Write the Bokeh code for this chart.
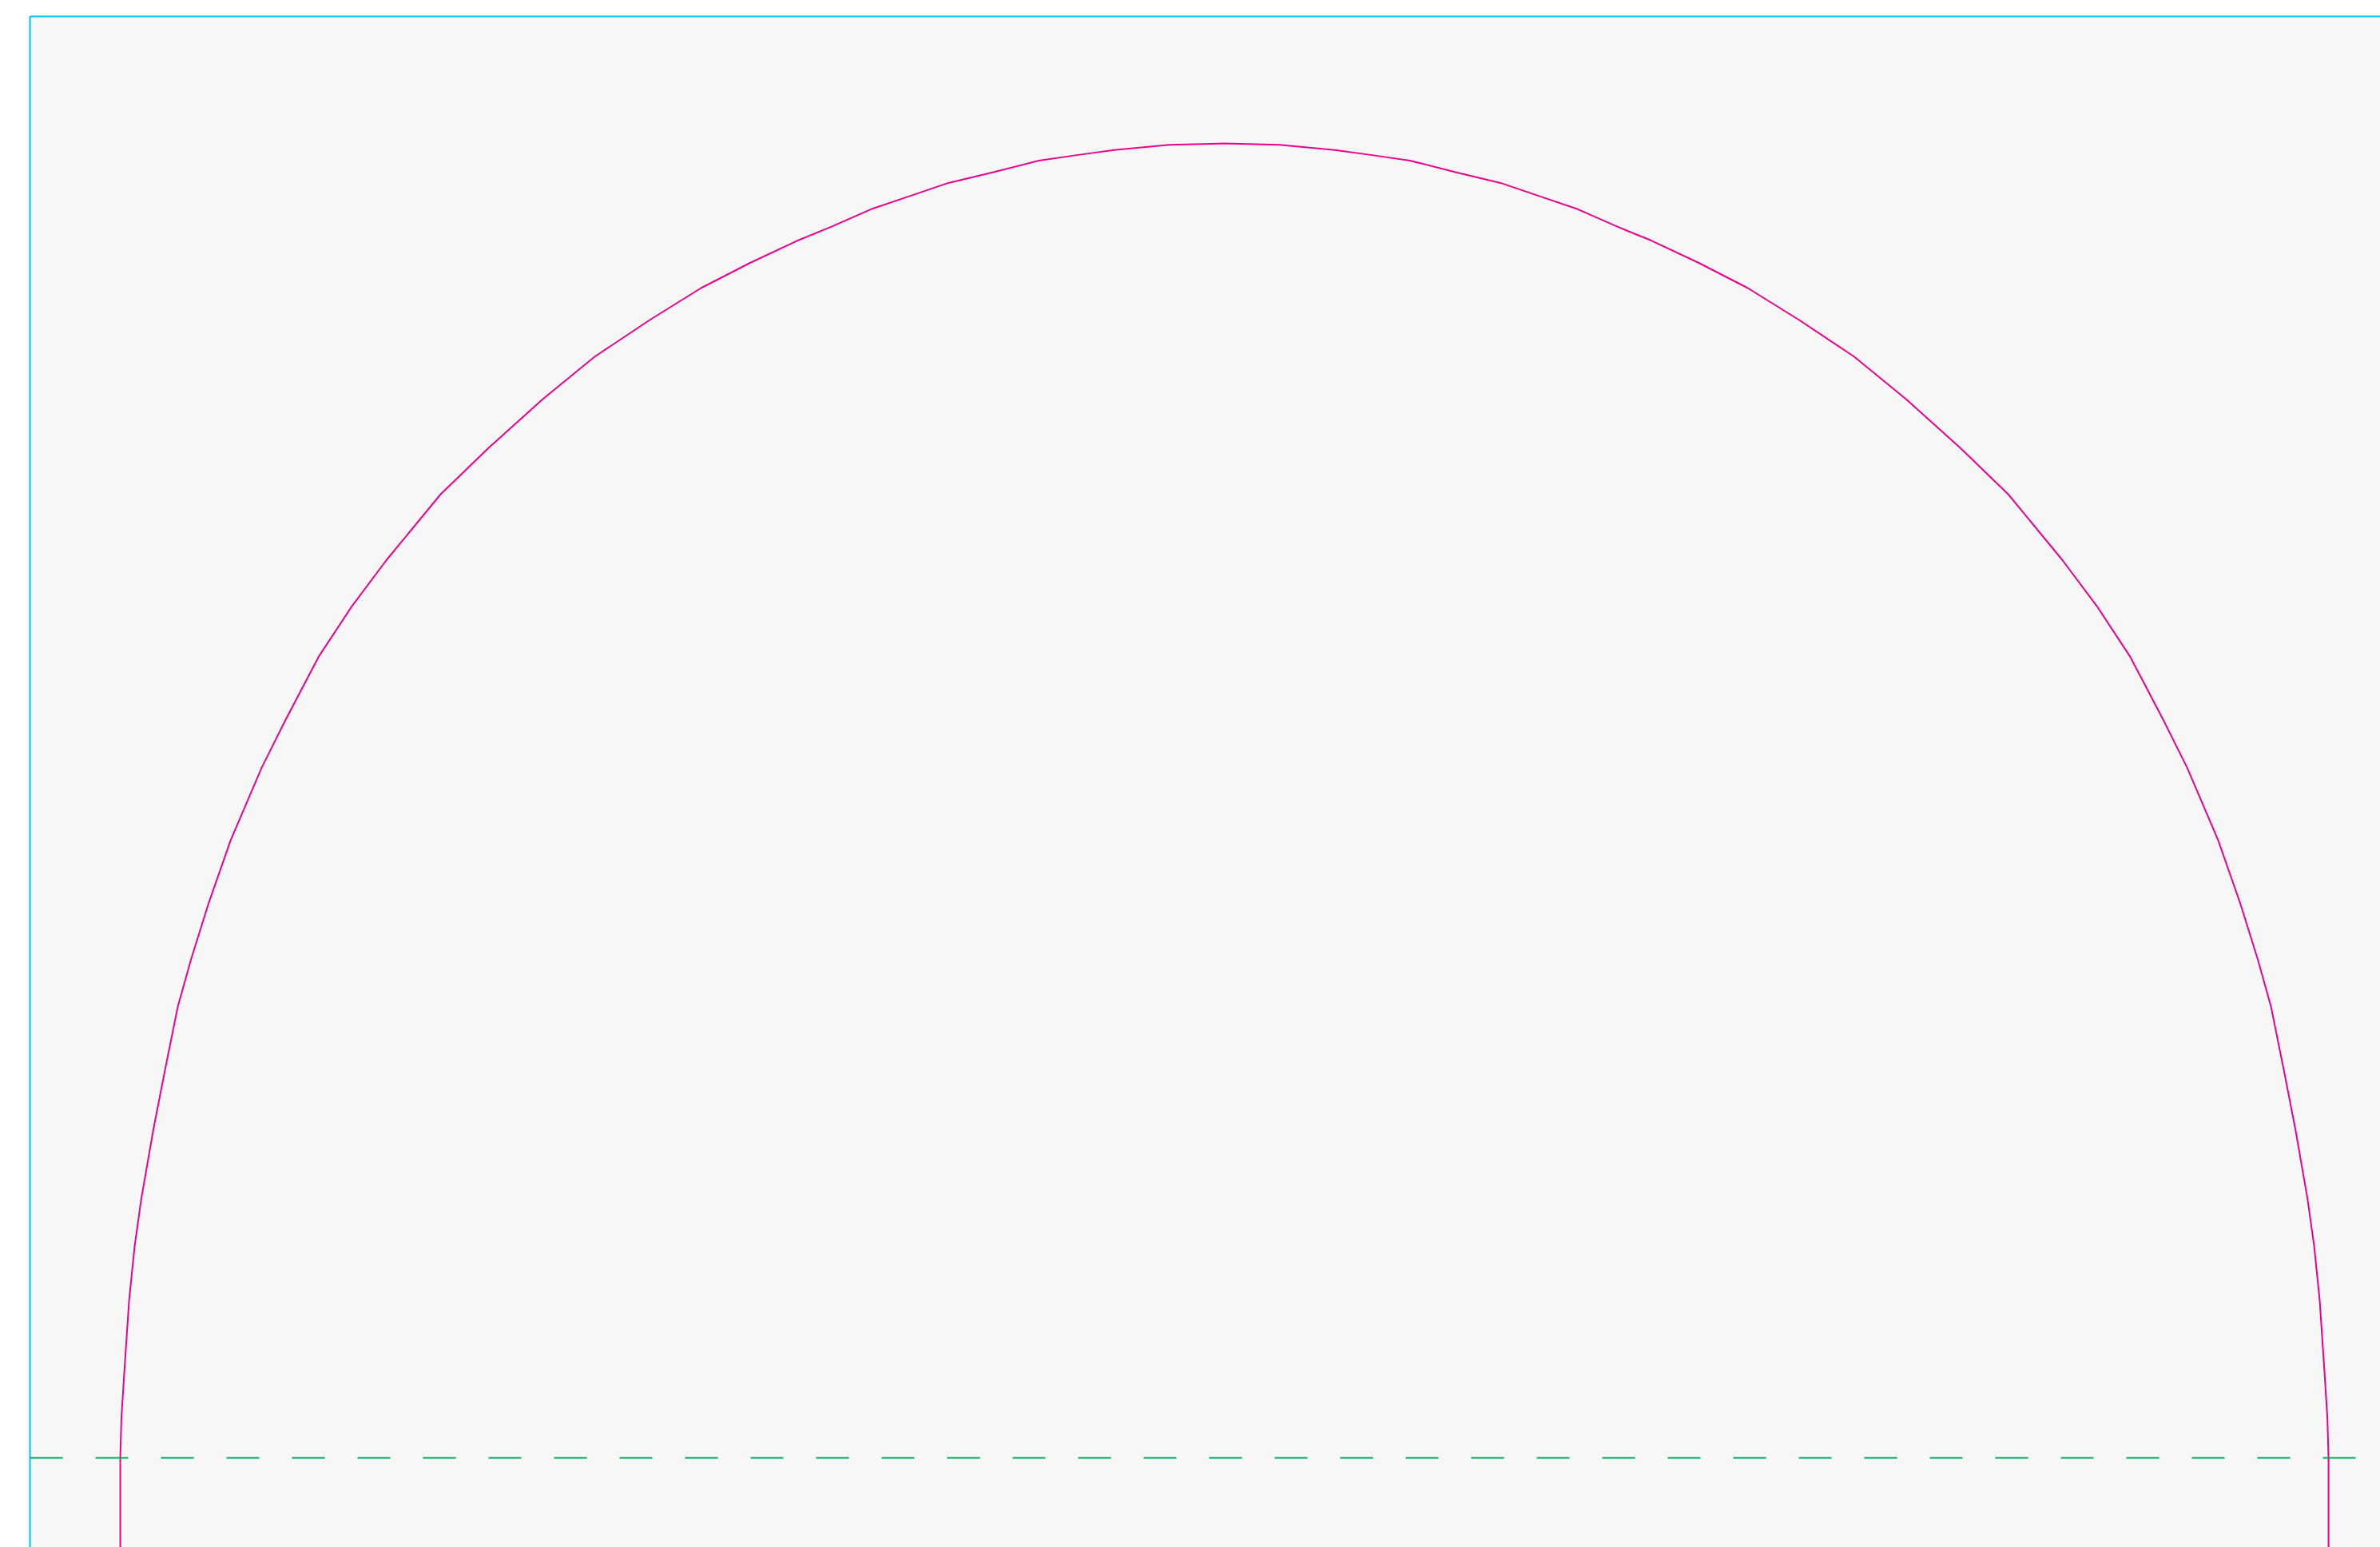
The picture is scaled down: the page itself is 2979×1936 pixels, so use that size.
from bokeh.plotting import figure
from bokeh.models import Span, FixedTicker, Range1d
from bokeh.embed import file_html
from bokeh.resources import INLINE

# Curve (x, y); y=0 at the dashed line, peak = 1
left_x = [-1.000, -1.000, -0.999, -0.996, -0.992, -0.987, -0.981, -0.970, -0.960,
          -0.948, -0.936, -0.920, -0.900, -0.872, -0.850, -0.820, -0.791,
          -0.759, -0.710, -0.667, -0.618, -0.570, -0.520, -0.474, -0.430,
          -0.387, -0.355, -0.320, -0.285, -0.250, -0.210, -0.168, -0.135,
          -0.100, -0.050]
left_y = [-0.120, 0.000, 0.030, 0.070, 0.120, 0.161, 0.197, 0.250, 0.293,
          0.343, 0.379, 0.422, 0.470, 0.525, 0.562, 0.610, 0.647,
          0.683, 0.733, 0.768, 0.805, 0.838, 0.866, 0.890, 0.909,
          0.926, 0.937, 0.950, 0.960, 0.970, 0.978, 0.987, 0.991,
          0.995, 0.999]
peak_x = [0.000]
peak_y = [1.000]
right_x = [0.050, 0.100, 0.135, 0.168, 0.210, 0.250, 0.285, 0.320, 0.355,
           0.387, 0.430, 0.474, 0.520, 0.570, 0.618, 0.667, 0.710, 0.759,
           0.791, 0.820, 0.850, 0.872, 0.900, 0.920, 0.936, 0.948, 0.960,
           0.970, 0.981, 0.987, 0.992, 0.996, 0.999, 1.000, 1.000]
right_y = [0.999, 0.995, 0.991, 0.987, 0.978, 0.970, 0.960, 0.950, 0.937,
           0.926, 0.909, 0.890, 0.866, 0.838, 0.805, 0.768, 0.733, 0.683,
           0.647, 0.610, 0.562, 0.525, 0.470, 0.422, 0.379, 0.343, 0.293,
           0.250, 0.197, 0.161, 0.120, 0.070, 0.030, 0.000, -0.120]
baseline_y = 0.0

curve_x = left_x + peak_x + right_x
curve_y = left_y + peak_y + right_y

p = figure(width=2979, height=1936, output_backend="svg", toolbar_location=None,
           x_axis_location="above",
           x_range=Range1d(-1.0818, 1.0470), y_range=Range1d(-0.0681, 1.0967),
           min_border_left=37, min_border_top=20, min_border_right=0, min_border_bottom=0)
p.background_fill_color = "#f7f7f7"
p.border_fill_color = "white"
p.outline_line_color = None
p.grid.visible = False

for ax in (p.xaxis[0], p.yaxis[0]):
    ax.ticker = FixedTicker(ticks=[])
    ax.minor_tick_line_color = None
    ax.major_tick_line_color = None
    ax.major_tick_out = 0
    ax.major_label_standoff = 0
    ax.axis_line_color = "#00bfff"
    ax.axis_line_width = 2

p.line(curve_x, curve_y, line_color="#ec008c", line_width=2, line_join="round")
p.add_layout(Span(location=baseline_y, dimension="width", line_color="#00a651",
                  line_width=2, line_dash="41 41"))

open("out.html", "w").write(file_html(p, INLINE))
